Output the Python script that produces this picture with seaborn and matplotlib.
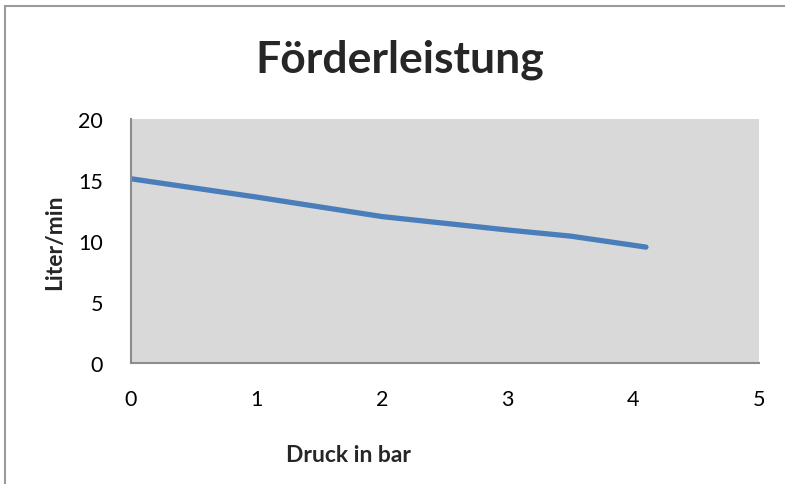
import numpy as np
import pandas as pd
import seaborn as sns
import matplotlib.pyplot as plt
from matplotlib.lines import Line2D

# Werte
druck = [0.0, 1.0, 2.0, 3.0, 3.5, 4.1]
liter = [15.1, 13.6, 12.0, 10.9, 10.4, 9.5]
x_ticks = [0, 1, 2, 3, 4, 5]
y_ticks = [0, 5, 10, 15, 20]

df = pd.DataFrame({"Druck in bar": druck, "Liter/min": liter})

sns.set_style("white")
plt.rcParams['font.family'] = ['Lato', 'DejaVu Sans']

fig = plt.figure(figsize=(7.85, 4.85), dpi=100)
ax = fig.add_axes([131/785, 1 - 364/485, 628/785, 244/485])
ax.set_facecolor("#d9d9d9")

sns.lineplot(data=df, x="Druck in bar", y="Liter/min", ax=ax,
             color="#4a7ebb", linewidth=3.8, solid_capstyle="round")

ax.set_xlim(0, 5)
ax.set_ylim(0, 20)
ax.set_xticks(x_ticks)
ax.set_yticks(y_ticks)
ax.tick_params(axis="both", length=0, labelsize=15.5, colors="black")
ax.tick_params(axis="y", pad=20)
ax.tick_params(axis="x", pad=19)

for s in ["top", "right"]:
    ax.spines[s].set_visible(False)
for s in ["left", "bottom"]:
    ax.spines[s].set_color("#8c8c8c")
    ax.spines[s].set_linewidth(1.5)

ax.set_xlabel("Druck in bar", fontsize=16.5, fontweight="bold")
ax.set_ylabel("Liter/min", fontsize=16.5, fontweight="bold")
ax.xaxis.set_label_coords(0.346, -0.373)
ax.yaxis.set_label_coords(-0.121, 0.5)
ax.xaxis.label.set_va("center")
ax.yaxis.label.set_va("center")
fig.text(400/785, 1 - 60/485, "Förderleistung", fontsize=32, fontweight="bold",
         ha="center", va="center")

# Rahmen des Diagrammbereichs
fig.add_artist(Line2D([5/785, 1], [1 - 7/485, 1 - 7/485], color="#9a9a9a", lw=1.5))
fig.add_artist(Line2D([5/785, 5/785], [0, 1 - 7/485], color="#9a9a9a", lw=1.5))

fig.savefig("out.png", dpi=100, facecolor="white")
